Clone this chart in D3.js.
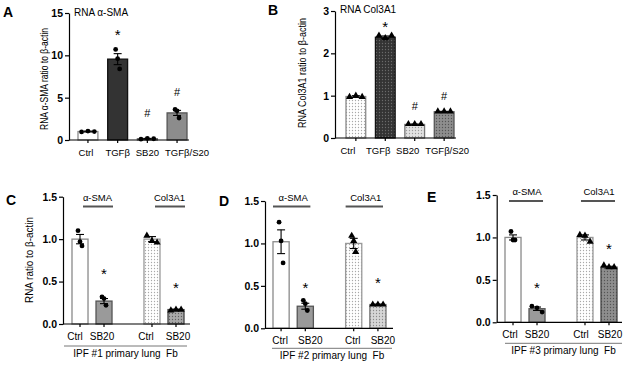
<!DOCTYPE html>
<meta charset="utf-8">
<style>
  body { margin: 0; background: #fff; }
  text { font-family: "Liberation Sans", Arial, sans-serif; fill: #000; }
  .yax text { font-size: 10.5px; font-weight: bold; fill: #000; }
  .xax text { font-size: 10px; fill: #000; }
  .yax path, .yax line, .xax line { stroke: #000; stroke-width: 1.2; }
</style>
<body>
<svg id="fig" width="629" height="367"></svg>
</body>
<script src="https://d3js.org/d3.v7.min.js"></script>
<script>
// panel A : RNA a-SMA
var catsA = ["Ctrl", "TGFβ", "SB20", "TGFβ/S20"];
var meanA = [1.0, 9.55, 0.15, 3.2];
var semA = [0.05, 0.65, 0.04, 0.3];
var ptsA = [[0.95, 1.05, 1.0], [10.7, 9.6, 8.4], [0.1, 0.2, 0.15], [3.6, 3.45, 2.6]];
var markA = ["", "*", "#", "#"];
var markYA = [null, 12.9, 3.2, 5.7];
var ticksA = [0, 5, 10, 15];

// panel B : RNA Col3A1
var catsB = ["Ctrl", "TGFβ", "SB20", "TGFβ/S20"];
var meanB = [0.98, 2.38, 0.32, 0.62];
var semB = [0.02, 0.03, 0.01, 0.01];
var ptsB = [[0.97, 1.0, 0.97], [2.42, 2.36, 2.42], [0.33, 0.33, 0.33], [0.63, 0.63, 0.63]];
var markB = ["", "*", "#", "#"];
var markYB = [null, 2.73, 0.76, 0.98];
var ticksB = [0, 1, 2, 3];

// panels C-E : primary IPF fibroblasts
var groups = ["α-SMA", "Col3A1"];
var conds = ["Ctrl", "SB20"];
var ticksCDE = [0, 0.5, 1.0, 1.5];

var meanC = [[1.0, 0.27], [1.0, 0.17]];
var semC = [[0.055, 0.03], [0.03, 0.005]];
var ptsC = [[[1.1, 0.97, 0.92], [0.32, 0.3, 0.22]], [[1.04, 0.98, 0.96], [0.16, 0.17, 0.17]]];
var starC = [[null, 0.64], [null, 0.48]];

var meanD = [[1.02, 0.26], [1.0, 0.28]];
var semD = [[0.14, 0.035], [0.06, 0.005]];
var ptsD = [[[1.25, 1.03, 0.77], [0.33, 0.29, 0.21]], [[1.09, 1.03, 0.9], [0.28, 0.28, 0.28]]];
var starD = [[null, 0.53], [null, 0.59]];

var meanE = [[1.0, 0.16], [1.0, 0.65]];
var semE = [[0.03, 0.02], [0.03, 0.01]];
var ptsE = [[[1.07, 0.97, 0.97], [0.19, 0.17, 0.12]], [[1.03, 1.02, 0.95], [0.67, 0.65, 0.65]]];
var starE = [[null, 0.46], [null, 0.92]];

var svg = d3.select("#fig");
var defs = svg.append("defs");

// dotted fills
function dots(id, bg, dot) {
  var p = defs.append("pattern").attr("id", id).attr("patternUnits", "userSpaceOnUse")
    .attr("width", 3).attr("height", 3);
  p.append("rect").attr("width", 3).attr("height", 3).attr("fill", bg);
  p.append("circle").attr("cx", 1.5).attr("cy", 1.5).attr("r", 0.65).attr("fill", dot);
}
dots("dWhite", "#ffffff", "#a8a8a8");
dots("dDark", "#333333", "#6a6a6a");
dots("dLight", "#e2e2e2", "#9a9a9a");
dots("dMid", "#8e8e8e", "#555555");
dots("dMid2", "#a8a8a8", "#606060");
dots("dPale", "#d6d6d6", "#8a8a8a");

function yAxisDraw(g, y, ticks, x0, fmt) {
  g.append("g").attr("class", "yax").attr("transform", "translate(" + x0 + ",0)")
    .call(d3.axisLeft(y).tickValues(ticks).tickFormat(fmt).tickSize(4).tickPadding(2).tickSizeOuter(0));
}

function drawPoints(g, cx, vals, y, bw, shape) {
  var px = vals.map(function(v) { return y(v); });
  var spread = d3.max(px) - d3.min(px);
  vals.forEach(function(v, i) {
    var dx = (i - 1) * (spread < 8 ? bw * 0.32 : 2);
    if (shape === "tri") {
      g.append("path").attr("d", d3.symbol(d3.symbolTriangle, 22)())
        .attr("transform", "translate(" + (cx + dx) + "," + y(v) + ")").attr("fill", "#000");
    } else {
      g.append("circle").attr("cx", cx + dx).attr("cy", y(v)).attr("r", 2.4).attr("fill", "#000");
    }
  });
}

function errBar(g, cx, m, s, y, cap) {
  g.append("line").attr("x1", cx).attr("x2", cx).attr("y1", y(m - s)).attr("y2", y(m + s))
    .attr("stroke", "#000").attr("stroke-width", 1.1);
  [m - s, m + s].forEach(function(v) {
    g.append("line").attr("x1", cx - cap).attr("x2", cx + cap).attr("y1", y(v)).attr("y2", y(v))
      .attr("stroke", "#000").attr("stroke-width", 1.1);
  });
}

function panelLetter(t, x, yy) {
  svg.append("text").attr("x", x).attr("y", yy).text(t)
    .style("font-size", "14px").style("font-weight", "bold");
}

function yLabel(t, x, yc, len, fs) {
  svg.append("text").attr("transform", "translate(" + x + "," + yc + ") rotate(-90)")
    .attr("text-anchor", "middle").attr("textLength", len).attr("lengthAdjust", "spacingAndGlyphs")
    .style("font-size", fs + "px").text(t);
}

// ---- top panels (A, B) ----
function topPanel(o) {
  var y = d3.scaleLinear().domain([0, o.ticks[o.ticks.length - 1]]).range([o.y0, o.yTop]);
  var x = d3.scaleBand().domain(o.cats).range(o.barRange).paddingInner(0.33).paddingOuter(0);
  var g = svg.append("g");
  var bw = x.bandwidth();
  o.cats.forEach(function(c, i) {
    g.append("rect").attr("x", x(c)).attr("y", y(o.mean[i])).attr("width", bw)
      .attr("height", y(0) - y(o.mean[i]))
      .attr("fill", o.fills[i]).attr("stroke", o.strokes[i]).attr("stroke-width", 1.3);
  });
  o.cats.forEach(function(c, i) {
    var cx = x(c) + bw / 2;
    drawPoints(g, cx, o.pts[i], y, bw, o.shape);
    errBar(g, cx, o.mean[i], o.sem[i], y, 4);
    if (o.mark[i]) {
      g.append("text").attr("x", cx).attr("y", y(o.markY[i])).attr("text-anchor", "middle")
        .attr("dy", o.mark[i] === "*" ? "0.62em" : "0.36em").style("fill", "#000")
        .style("font-size", o.mark[i] === "*" ? "15px" : "11px").text(o.mark[i]);
    }
  });
  yAxisDraw(g, y, o.ticks, o.axisX, d3.format("d"));
  var xa = g.append("g").attr("class", "xax").attr("transform", "translate(0," + o.y0 + ")")
    .call(d3.axisBottom(x).tickSize(3).tickPadding(6).tickSizeOuter(0));
  xa.select(".domain").remove();
  xa.selectAll(".tick text").attr("dx", function(d, i) { return o.labDx[i]; }).style("font-size", "9.5px");
  xa.append("line").attr("x1", o.axisX).attr("x2", o.xEnd).attr("stroke", "#000").attr("stroke-width", 1.2);
  svg.append("text").attr("x", o.titleX).attr("y", o.titleY).style("font-size", "10px").text(o.title);
}

topPanel({cats: catsA, mean: meanA, sem: semA, pts: ptsA, mark: markA, markY: markYA, ticks: ticksA,
  axisX: 69, y0: 140, yTop: 13, xEnd: 189, barRange: [78, 187], shape: "dot", labDx: [-2, 0, 0, 10],
  fills: ["#ffffff", "#333333", "#c4c4c4", "#8c8c8c"], strokes: ["#8a8a8a", "#111", "#666", "#555"],
  title: "RNA α-SMA", titleX: 74, titleY: 16});
topPanel({cats: catsB, mean: meanB, sem: semB, pts: ptsB, mark: markB, markY: markYB, ticks: ticksB,
  axisX: 335, y0: 138, yTop: 11, xEnd: 456, barRange: [346, 454], shape: "tri", labDx: [-8, -7, -7, 3],
  fills: ["url(#dWhite)", "url(#dDark)", "url(#dLight)", "url(#dMid)"], strokes: ["#8a8a8a", "#111", "#777", "#555"],
  title: "RNA Col3A1", titleX: 340, titleY: 13});

panelLetter("A", 3, 17);
panelLetter("B", 268, 15);
yLabel("RNA α-SMA ratio to β-actin", 48, 79, 102, 10);
yLabel("RNA Col3A1 ratio to β-actin", 306, 73, 110, 10);

// ---- bottom panels (C, D, E) ----
function ipfPanel(o) {
  var y = d3.scaleLinear().domain([0, 1.5]).range([o.y0, o.yTop]);
  var xg = d3.scaleBand().domain(groups).range(o.barRange).paddingInner(0.444).paddingOuter(0);
  var xc = d3.scaleBand().domain(conds).range([0, xg.bandwidth()]).paddingInner(0.333).paddingOuter(0);
  var g = svg.append("g");
  var bw = xc.bandwidth();
  groups.forEach(function(gr, gi) {
    var gx = xg(gr);
    conds.forEach(function(c, ci) {
      var m = o.mean[gi][ci];
      g.append("rect").attr("x", gx + xc(c)).attr("y", y(m)).attr("width", bw).attr("height", y(0) - y(m))
        .attr("fill", o.fills[gi][ci]).attr("stroke", o.strokes[gi][ci]).attr("stroke-width", 1.3);
    });
    conds.forEach(function(c, ci) {
      var cx = gx + xc(c) + bw / 2;
      drawPoints(g, cx, o.pts[gi][ci], y, bw, gi === 0 ? "dot" : "tri");
      errBar(g, cx, o.mean[gi][ci], o.sem[gi][ci], y, 4);
      if (o.star[gi][ci] != null) {
        g.append("text").attr("x", cx).attr("y", y(o.star[gi][ci])).attr("dy", "0.62em")
          .attr("text-anchor", "middle").style("font-size", "15px").style("fill", "#000").text("*");
      }
    });
    var xa = g.append("g").attr("class", "xax").attr("transform", "translate(" + gx + "," + o.y0 + ")")
      .call(d3.axisBottom(xc).tickSize(3).tickPadding(o.labPad).tickSizeOuter(0));
    xa.select(".domain").remove();
    xa.selectAll(".tick text").attr("dx", function(d, i) { return o.labDx[gi * 2 + i]; });
    // group label with bar above
    g.append("line").attr("x1", gx + o.gl[0]).attr("x2", gx + xg.bandwidth() + o.gl[1])
      .attr("y1", o.gLineY).attr("y2", o.gLineY).attr("stroke", "#555").attr("stroke-width", 2);
    g.append("text").attr("x", gx + xg.bandwidth() / 2 + o.gl[0] / 2).attr("y", o.gLineY - 6)
      .attr("text-anchor", "middle").style("font-size", "9.5px").text(gr);
  });
  yAxisDraw(g, y, ticksCDE, o.axisX, d3.format(".1f"));
  g.append("line").attr("x1", o.axisX).attr("x2", o.xEnd).attr("y1", o.y0).attr("y2", o.y0)
    .attr("stroke", "#000").attr("stroke-width", 1.2);
  g.append("line").attr("x1", o.lineX[0]).attr("x2", o.lineX[1]).attr("y1", o.lineY).attr("y2", o.lineY)
    .attr("stroke", "#777").attr("stroke-width", 1);
  g.append("text").attr("x", (o.lineX[0] + o.lineX[1]) / 2).attr("y", o.lineY + 11)
    .attr("text-anchor", "middle").style("font-size", "10px").style("white-space", "pre").text(o.caption);
}

ipfPanel({mean: meanC, sem: semC, pts: ptsC, star: starC, axisX: 63, y0: 324, yTop: 196.7, xEnd: 190,
  barRange: [72, 184], labPad: 6, gLineY: 206.5, gl: [11, 1], lineX: [64, 187], lineY: 346,
  labDx: [-5, -2, -6, 2],
  fills: [["#ffffff", "#9a9a9a"], ["url(#dWhite)", "url(#dMid2)"]],
  strokes: [["#8a8a8a", "#555"], ["#9a9a9a", "#444"]], caption: "IPF #1 primary lung  Fb"});
ipfPanel({mean: meanD, sem: semD, pts: ptsD, star: starD, axisX: 265, y0: 328.3, yTop: 201, xEnd: 393,
  barRange: [273, 386], labPad: 6, gLineY: 206.5, gl: [0, -3], lineX: [272, 392], lineY: 348.3,
  labDx: [-1, 5, -1, 5],
  fills: [["#ffffff", "#9a9a9a"], ["url(#dWhite)", "url(#dPale)"]],
  strokes: [["#8a8a8a", "#555"], ["#9a9a9a", "#777"]], caption: "IPF #2 primary lung  Fb"});
ipfPanel({mean: meanE, sem: semE, pts: ptsE, star: starE, axisX: 496.7, y0: 322.3, yTop: 195, xEnd: 622,
  barRange: [505, 617], labPad: 6, gLineY: 201, gl: [4, -2], lineX: [505, 622], lineY: 343.3,
  labDx: [-3, 0, -4, 1],
  fills: [["#ffffff", "#9a9a9a"], ["url(#dWhite)", "url(#dMid)"]],
  strokes: [["#8a8a8a", "#555"], ["#9a9a9a", "#444"]], caption: "IPF #3 primary lung  Fb"});

panelLetter("C", 6, 205);
panelLetter("D", 219, 206);
panelLetter("E", 427, 202);
yLabel("RNA ratio to β-actin", 33, 260, 86, 10);
</script>
